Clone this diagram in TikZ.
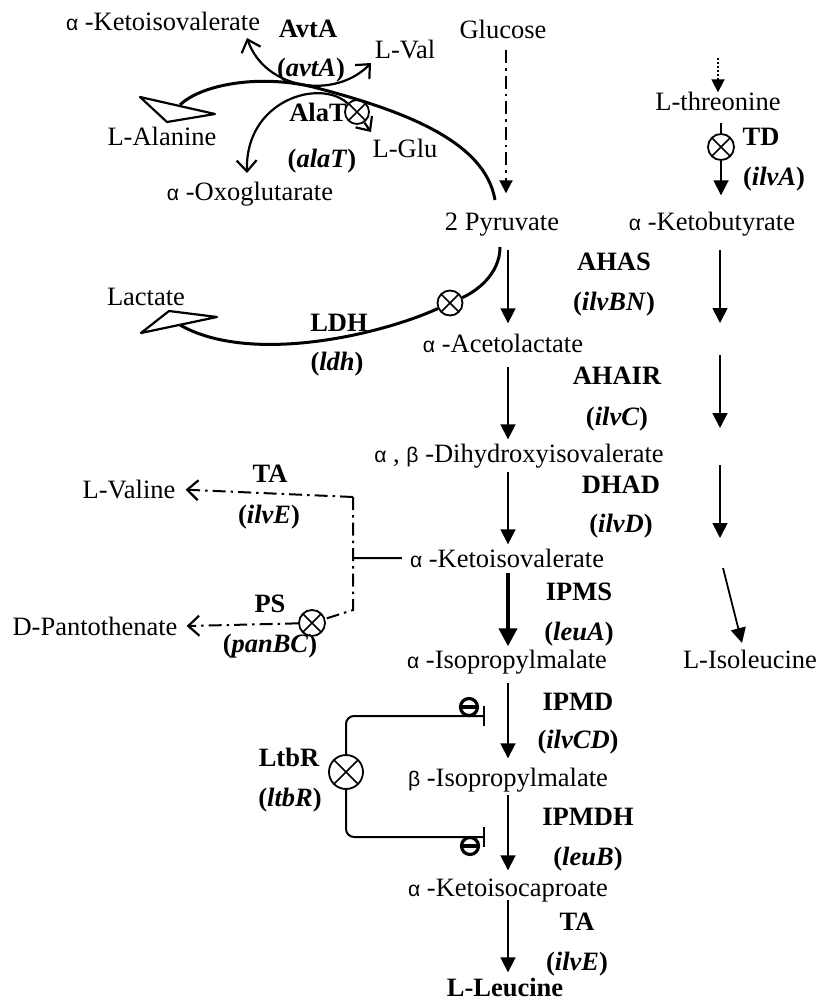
\documentclass[tikz,border=0pt]{standalone}
\usepackage{fontspec}
\setmainfont{Liberation Serif}
\newfontfamily\grk[Scale=0.8]{Liberation Sans}
\usetikzlibrary{arrows.meta, positioning}

\newcommand{\ga}{{\grk α}}
\newcommand{\gb}{{\grk β}}
\newcommand{\gene}[1]{(\textit{#1})}

\begin{document}
\begin{tikzpicture}[
        x=1pt, y=-1pt,
        font=\fontsize{26.5}{30}\selectfont,
        openhead/.tip={Straight Barb[length=11pt, width=20pt, line width=2.2pt]},
        met/.style={anchor=base, inner sep=0pt, text height=17.5pt, text depth=0pt},
        enz/.style={anchor=base, inner sep=0pt, font=\fontsize{26.5}{30}\selectfont\bfseries},
        flow/.style={line width=1.8pt, -{Triangle[length=15pt, width=15pt]}},
        col/.style={flow, shorten <=10pt, shorten >=5pt},
        curve/.style={line width=3pt},
        side/.style={line width=2.2pt, line join=round},
        dashdotline/.style={line width=2pt, dash pattern=on 13pt off 5pt on 2.5pt off 5pt},
        ox/.style={draw, circle, line width=1.8pt, minimum size=25pt, inner sep=0pt,
            path picture={\draw[line width=1.6pt] (path picture bounding box.north west) -- (path picture bounding box.south east)
                (path picture bounding box.south west) -- (path picture bounding box.north east);}},
        minus/.style={draw, circle, line width=3.2pt, minimum size=17pt, inner sep=0pt,
            path picture={\draw[line width=3.2pt] (path picture bounding box.west) -- (path picture bounding box.east);}},
        inh/.style={line width=2pt, rounded corners=8pt, -{Bar[width=20pt, line width=2pt]}}
    ]
        \useasboundingbox (0,0) rectangle (818,1001);

        % Metabolites
        \node[met] (kivtop) at (163,30) {\ga{} -Ketoisovalerate};
        \node[met] (lval) at (405,58) {L-Val};
        \node[met] (lala) at (162,145) {L-Alanine};
        \node[met] (lglu) at (405,157) {L-Glu};
        \node[met] (oxo) at (250,200) {\ga{} -Oxoglutarate};
        \node[met] (glc) at (503,38) {Glucose};
        \node[met] (thr) at (718,110) {L-threonine};
        \node[met] (kbut) at (712,230) {\ga{} -Ketobutyrate};
        \node[met] (pyr) at (502,230) {2 Pyruvate};
        \node[met] (lac) at (146,305) {Lactate};
        \node[met] (acl) at (503,352) {\ga{} -Acetolactate};
        \node[met] (dhiv) at (519,462) {\ga{} , \gb{} -Dihydroxyisovalerate};
        \node[met] (val) at (129,498) {L-Valine};
        \node[met] (kiv) at (507,567) {\ga{} -Ketoisovalerate};
        \node[met] (pan) at (95,635) {D-Pantothenate};
        \node[met] (ipm) at (507,668) {\ga{} -Isopropylmalate};
        \node[met] (ile) at (750,668) {L-Isoleucine};
        \node[met] (bipm) at (508,786) {\gb{} -Isopropylmalate};
        \node[met] (kic) at (508,896) {\ga{} -Ketoisocaproate};
        \node[met] (leu) at (505,996) {\textbf{L-Leucine}};

        % Enzymes and genes
        \node[enz] (avt) at (308,37) {AvtA};
        \node[enz] (avtg) at (311,76) {\gene{avtA}};
        \node[enz] (ala) at (318,121) {AlaT};
        \node[enz] (alag) at (322,167) {\gene{alaT}};
        \node[enz] (td) at (761,145) {TD};
        \node[enz] (tdg) at (774,185) {\gene{ilvA}};
        \node[enz] (ldh) at (339,331) {LDH};
        \node[enz] (ldhg) at (337,370) {\gene{ldh}};
        \node[enz] (ahas) at (614,270) {AHAS};
        \node[enz] (ahasg) at (614,310) {\gene{ilvBN}};
        \node[enz] (ahair) at (617,384) {AHAIR};
        \node[enz] (ahairg) at (617,425) {\gene{ilvC}};
        \node[enz] (dhad) at (621,493) {DHAD};
        \node[enz] (dhadg) at (621,532) {\gene{ilvD}};
        \node[enz] (tav) at (270,482) {TA};
        \node[enz] (tavg) at (269,523) {\gene{ilvE}};
        \node[enz] (ps) at (270,612) {PS};
        \node[enz] (psg) at (270,652) {\gene{panBC}};
        \node[enz] (ipms) at (579,600) {IPMS};
        \node[enz] (ipmsg) at (579,640) {\gene{leuA}};
        \node[enz] (ipmd) at (578,710) {IPMD};
        \node[enz] (ipmdg) at (578,748) {\gene{ilvCD}};
        \node[enz] (ipmdh) at (588,825) {IPMDH};
        \node[enz] (ipmdhg) at (588,865) {\gene{leuB}};
        \node[enz] (tal) at (577,930) {TA};
        \node[enz] (talg) at (577,970) {\gene{ilvE}};
        \node[enz] (ltb) at (289,766) {LtbR};
        \node[enz] (ltbg) at (290,806) {\gene{ltbR}};

        % Blocked steps
        \node[ox, minimum size=24pt] (alax) at (357,112) {};
        \node[ox, minimum size=26pt] (tdx) at (721,147) {};
        \node[ox] (ldhx) at (450,303) {};
        \node[ox, minimum size=26pt] (psx) at (312,623) {};
        \node[ox, minimum size=34pt] (ltbx) at (346,772) {};
        \node[minus] (m1) at (469,707) {};
        \node[minus] (m2) at (470,846) {};

        % Free ends
        \coordinate (colL) at (508,0);
        \coordinate (cross) at (317,88);
        \coordinate (pyrT) at (495,200);
        \coordinate (pyrL) at (500,247);
        \coordinate (alaend) at (180,105);
        \coordinate (lacend) at (180,325);
        \coordinate (kivtip) at (247,38);
        \coordinate (valtip) at (371,63);
        \coordinate (oxotip) at (247,173);
        \coordinate (glutip) at (371,132);
        \coordinate (thrin) at (718,58);
        \coordinate (vtop) at (353,497);
        \coordinate (vmid) at (353,558);
        \coordinate (vbot) at (353,610);
        \coordinate (inh1) at (485,716);
        \coordinate (inh2) at (485,837);
        \coordinate (r1a) at (720,250);
        \coordinate (r1b) at (720,323);
        \coordinate (r2a) at (720,355);
        \coordinate (r2b) at (720,428);
        \coordinate (r3a) at (720,465);
        \coordinate (r3b) at (720,538);
        \coordinate (r4a) at (723,568);
        \coordinate (r4b) at (742,643);

        % Leucine column
        \draw[col, shorten <=20pt, shorten >=11pt] (pyr.south -| colL) -- (acl.north -| colL);
        \draw[col, shorten <=15pt] (acl.south -| colL) -- (dhiv.north -| colL);
        \draw[col] (dhiv.south -| colL) -- (kiv.north -| colL);
        \draw[col, line width=4pt, -{Triangle[length=18pt, width=18pt]}, shorten <=6pt, shorten >=4pt] (kiv.south -| colL) -- (ipm.north -| colL);
        \draw[col, shorten <=15pt, shorten >=10pt] (ipm.south -| colL) -- (bipm.north -| colL);
        \draw[col, shorten <=9pt, shorten >=8pt] (bipm.south -| colL) -- (kic.north -| colL);
        \draw[col, shorten <=4pt, shorten >=6pt] (kic.south -| colL) -- (leu.north -| colL);

        % Isoleucine column
        \draw[line width=1.8pt, dash pattern=on 2pt off 2pt, -{Triangle[length=13pt, width=13pt]}] (thrin) -- (thr.north -| thrin);
        \draw[line width=1.8pt, shorten <=13pt] (thr.south -| tdx) -- (tdx.north);
        \draw[flow, shorten >=17pt] (tdx.south) -- (kbut.north -| tdx);
        \draw[flow] (r1a) -- (r1b);
        \draw[flow] (r2a) -- (r2b);
        \draw[flow] (r3a) -- (r3b);
        \draw[flow] (r4a) -- (r4b);

        % Glucose
        \draw[dashdotline, -{Triangle[length=13pt, width=13pt]}, shorten <=12pt, shorten >=19pt] ([xshift=3pt]glc.south) -- ([xshift=3pt]glc.south |- pyr.north);

        % Pyruvate to alanine, transaminases
        \draw[curve] (pyrT) .. controls (485,140) and (400,110) .. (cross) .. controls (260,73) and (200,85) .. (alaend);
        \draw[side] (140,97) -- (167,122) -- (215,114) -- cycle;
        \draw[side, openhead-openhead] (kivtip) .. controls (265,90) and (335,100) .. (valtip);
        \draw[side, openhead-] (oxotip) .. controls (245,100) and (320,78) .. (alax);
        \draw[side, -openhead] (alax) -- (glutip);

        % Pyruvate to lactate
        \draw[curve] (pyrL) .. controls (500,275) and (475,292) .. (ldhx);
        \draw[curve] (ldhx) .. controls (380,335) and (250,365) .. (lacend);
        \draw[side] (141,333) -- (169,311) -- (217,317) -- cycle;

        % Valine and pantothenate branch
        \draw[line width=2pt, shorten <=8pt] (kiv.west) -- (vmid);
        \draw[dashdotline, -openhead, shorten >=10pt] (vtop) -- (val.east);
        \draw[dashdotline] (vtop) -- (vbot) -- (psx);
        \draw[dashdotline, -openhead, shorten >=9pt] (psx) -- (pan.east);

        % LtbR repression
        \draw[inh] (ltbx.north) |- (inh1);
        \draw[inh] (ltbx.south) |- (inh2);

    \end{tikzpicture}
\end{document}
